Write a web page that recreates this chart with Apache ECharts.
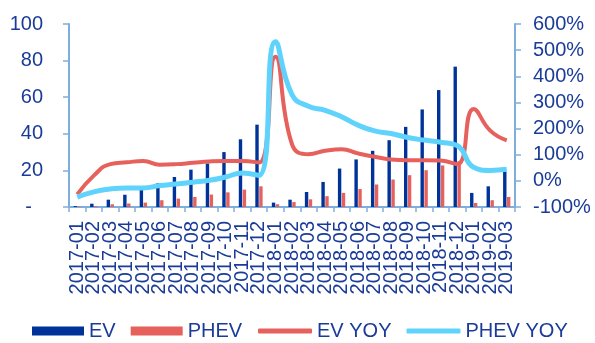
<!DOCTYPE html>
<html>
<head>
<meta charset="utf-8">
<script src="https://cdn.jsdelivr.net/npm/echarts@6/dist/echarts.min.js"></script>
<style>
  html, body { margin: 0; padding: 0; background: #ffffff; }
  #chart { width: 595px; height: 343px; }
</style>
</head>
<body>
<div id="chart"></div>
<script>
// Monthly sales (left axis) and year-over-year growth in % (right axis)
const months = ['2017-01','2017-02','2017-03','2017-04','2017-05','2017-06','2017-07','2017-08','2017-09','2017-10','2017-11','2017-12',
                '2018-01','2018-02','2018-03','2018-04','2018-05','2018-06','2018-07','2018-08','2018-09','2018-10','2018-11','2018-12',
                '2019-01','2019-02','2019-03'];
const evSales   = [0.5, 1.8, 4, 6.7, 10, 13, 16.4, 20.4, 23.8, 30, 37, 45,
                   2.4, 4, 8.2, 13.7, 21, 26, 30.7, 36.5, 43.8, 53.3, 63.9, 76.7,
                   7.7, 11.3, 19.2];
const phevSales = [0.3, 0.5, 1.5, 1.9, 2.4, 3.7, 4.6, 5.5, 6.8, 8, 9.5, 11.3,
                   1.5, 2.7, 4.2, 5.9, 7.7, 9.8, 12.3, 15, 17.4, 20.1, 22.7, 25,
                   2.2, 3.7, 5.5];
const evYoy     = [-52, 20, 64, 71, 76, 62, 64, 69, 74, 76, 76, 70,
                   475, 140, 102, 115, 121, 105, 92, 82, 79, 79, 78, 64,
                   275, 192, 155];
const phevYoy   = [-62, -42, -31, -27, -27, -18, -12, -5, 2, 15, 30, 21,
                   532, 330, 285, 270, 245, 213, 191, 181, 166, 156, 148, 135,
                   52, 40, 44];

const navy = '#1A3C98';
const axisBlue = '#7DAEDD';
const font = '"Liberation Sans", Arial, sans-serif';

const chart = echarts.init(document.getElementById('chart'), null, { renderer: 'canvas' });
chart.setOption({
  animation: false,
  textStyle: { fontFamily: font },
  grid: { left: 69, right: 80, top: 24, bottom: 136, containLabel: false },
  legend: [
    {
      data: ['EV', 'PHEV'],
      left: 27, top: 316,
      icon: 'rect', itemWidth: 52, itemHeight: 9, itemGap: 15,
      textStyle: { color: navy, fontSize: 20, fontFamily: font }
    },
    {
      data: ['EV YOY', 'PHEV YOY'],
      left: 253, top: 316,
      icon: 'roundRect', itemWidth: 54, itemHeight: 5, itemGap: 15,
      textStyle: { color: navy, fontSize: 20, fontFamily: font }
    }
  ],
  xAxis: {
    type: 'category',
    data: months,
    boundaryGap: true,
    axisLine: { lineStyle: { color: axisBlue, width: 2 } },
    axisTick: { show: true, length: 5, alignWithLabel: false, lineStyle: { color: axisBlue, width: 1.5 } },
    axisLabel: { interval: 0, rotate: 90, margin: 14, color: navy, fontSize: 20, fontFamily: font }
  },
  yAxis: [
    {
      type: 'value', min: 0, max: 100, interval: 20,
      splitLine: { show: false },
      axisLine: { show: true, lineStyle: { color: axisBlue, width: 2 } },
      axisTick: { show: true, length: 6, lineStyle: { color: axisBlue, width: 1.5 } },
      axisLabel: {
        margin: 26, color: navy, fontSize: 20, fontFamily: font,
        formatter: v => (v === 0 ? '-  ' : String(v))
      }
    },
    {
      type: 'value', min: -100, max: 600, interval: 100, position: 'right',
      splitLine: { show: false },
      axisLine: { show: true, lineStyle: { color: axisBlue, width: 2 } },
      axisTick: { show: true, length: 6, lineStyle: { color: axisBlue, width: 1.5 } },
      axisLabel: { margin: 18, color: navy, fontSize: 20, fontFamily: font, formatter: '{value}%' }
    }
  ],
  series: [
    {
      name: 'EV', type: 'bar', yAxisIndex: 0, data: evSales,
      barWidth: 3.4, barGap: '15%',
      itemStyle: { color: '#00339A' }
    },
    {
      name: 'PHEV', type: 'bar', yAxisIndex: 0, data: phevSales,
      barWidth: 3.4,
      itemStyle: { color: '#E6605C' }
    },
    {
      name: 'EV YOY', type: 'line', yAxisIndex: 1, data: evYoy,
      smooth: true, symbol: 'none',
      lineStyle: { color: '#E6605C', width: 4 },
      itemStyle: { color: '#E6605C' }
    },
    {
      name: 'PHEV YOY', type: 'line', yAxisIndex: 1, data: phevYoy,
      smooth: true, symbol: 'none',
      lineStyle: { color: '#60D3FC', width: 5 },
      itemStyle: { color: '#60D3FC' }
    }
  ]
});
</script>
</body>
</html>
